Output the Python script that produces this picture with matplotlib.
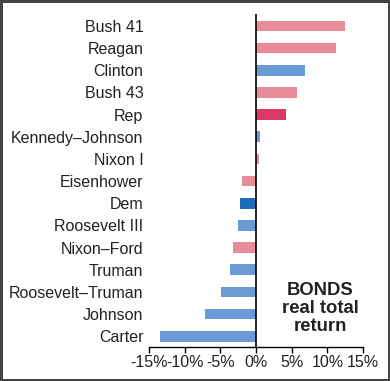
import matplotlib.pyplot as plt

presidents = ["Bush 41", "Reagan", "Clinton", "Bush 43", "Rep",
              "Kennedy–Johnson", "Nixon I", "Eisenhower", "Dem",
              "Roosevelt III", "Nixon–Ford", "Truman", "Roosevelt–Truman",
              "Johnson", "Carter"]
returns = [12.5, 11.2, 6.9, 5.7, 4.2, 0.6, 0.4, -2.0, -2.2, -2.5,
           -3.2, -3.7, -4.9, -7.2, -13.5]
party = ["R", "R", "D", "R", "Rall", "D", "R", "R", "Dall", "D",
         "R", "D", "D", "D", "D"]

colors = {"R": "#e88d98", "D": "#6a9bd6", "Rall": "#d83a63", "Dall": "#1a6db8"}
xticks = [-15, -10, -5, 0, 5, 10, 15]

plt.rcParams['font.family'] = ['Liberation Sans', 'DejaVu Sans']

fig = plt.figure(figsize=(3.9, 3.81), dpi=100, linewidth=2.5, edgecolor='#444444')
ax = fig.add_axes([0.382, 0.09, 0.549, 0.873])

ypos = list(range(len(presidents)))
ax.barh(ypos, returns, height=0.48, color=[colors[p] for p in party])
ax.axvline(0, color='black', linewidth=1.2)

ax.set_ylim(len(presidents) - 0.53, -0.53)
ax.set_xlim(-15, 15)
ax.set_yticks(ypos)
ax.set_yticklabels(presidents, fontsize=11.5, color='#222222')
ax.tick_params(axis='y', length=0, pad=4)
ax.set_xticks(xticks)
ax.set_xticklabels([f"{t}%" for t in xticks], fontsize=11.5, color='#222222')
ax.tick_params(axis='x', length=4, width=1, direction='out', pad=2)

for s in ['left', 'right', 'top']:
    ax.spines[s].set_visible(False)
ax.spines['bottom'].set_linewidth(1)

ax.text(9.0, 12.75, "BONDS\nreal total\nreturn", ha='center', va='center',
        fontsize=13.3, fontweight='bold', linespacing=1.05, color='#222222')

fig.savefig("out.png", dpi=100)
